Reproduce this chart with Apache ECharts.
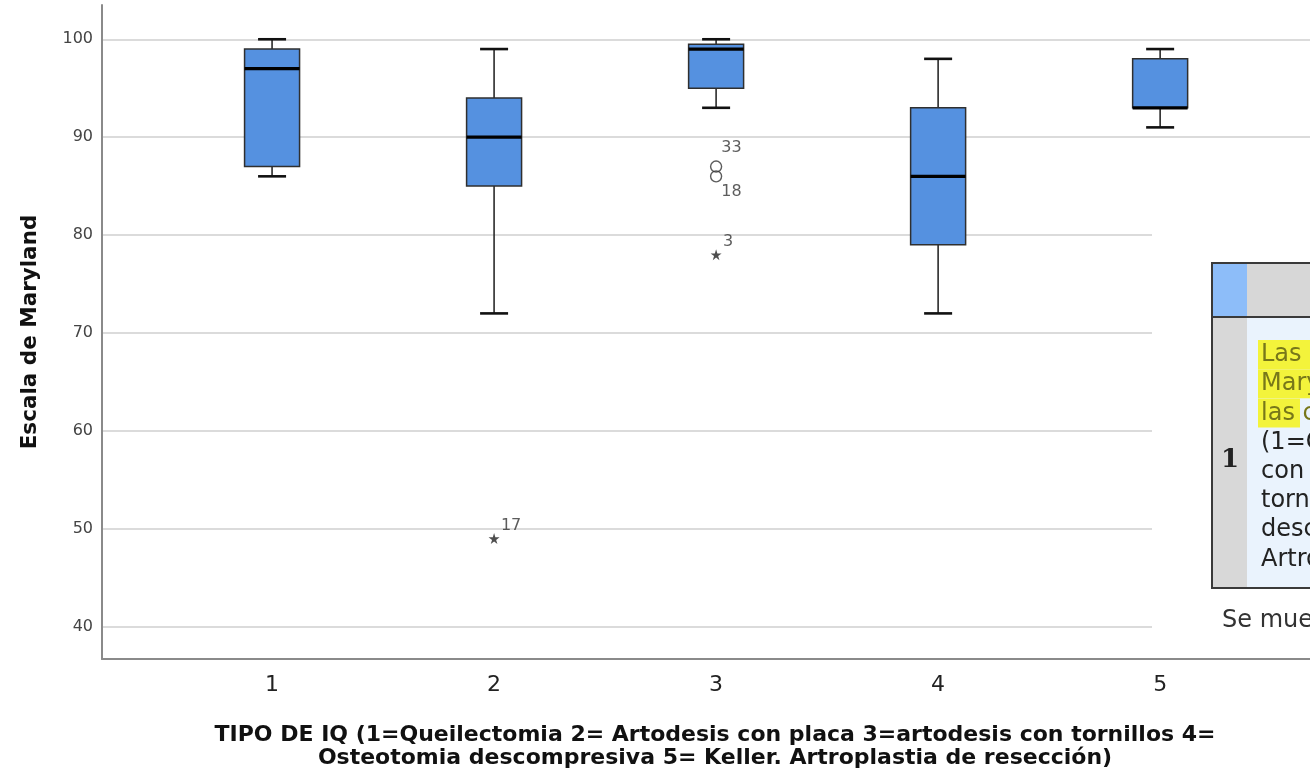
<!DOCTYPE html>
<html>
<head>
<meta charset="utf-8">
<script src="https://cdn.jsdelivr.net/npm/echarts@6/dist/echarts.min.js"></script>
<style>
html,body{margin:0;padding:0;background:#fff;}
#chart{width:1310px;height:775px;}
</style>
</head>
<body>
<div id="chart"></div>
<script>
// ---- data ----
const categories = [1, 2, 3, 4, 5];
const whiskerLow = [86, 72, 93, 72, 91];
const q1 = [87, 85, 95, 79, 93];
const median = [97, 90, 99, 86, 93];
const q3 = [99, 94, 99.5, 93, 98];
const whiskerHigh = [100, 99, 100, 98, 99];
const outlierCat = [3, 3];
const outlierVal = [87, 86];
const outlierId = ['33', '18'];
const extremeCat = [2, 3];
const extremeVal = [49, 78];
const extremeId = ['17', '3'];
const yAxisName = 'Escala de Maryland';
const xAxisName = 'TIPO DE IQ (1=Queilectomia 2= Artodesis con placa 3=artodesis con tornillos 4=\nOsteotomia descompresiva 5= Keller. Artroplastia de resección)';
const tableLines = ['Las medianas de Escala de', 'Maryland son las mismas entre', 'las categorías de TIPO DE IQ', '(1=Queilectomia 2= Artodesis', 'con placa 3=artodesis con', 'tornillos 4=Osteotomia', 'descompresiva 5= Keller.', 'Artroplastia de resección)'];
const tableRowLabel = '1';
const tableFooter = 'Se muestran significaciones asintóticas.';

// ---- styles / layout ----
const outlierLabelOffset = [[16, -18], [16, 16]];
const extremeLabelOffset = [[17, -13], [12, -13]];
const labelFont = {fontFamily: 'DejaVu Sans', fontSize: 16, color: '#333'};
const starPath = 'path://M50,0 L61,35 L98,35 L68,57 L79,91 L50,70 L21,91 L32,57 L2,35 L39,35 Z';

const boxData = categories.map((c, i) => [c, whiskerLow[i], q1[i], median[i], q3[i], whiskerHigh[i]]);

function makePoints(cats, vals, ids, offsets, size) {
  return cats.map((c, i) => ({
    value: [c, vals[i]],
    label: {
      show: true,
      formatter: ids[i],
      position: [size / 2 + offsets[i][0], size / 2 + offsets[i][1]],
      align: 'center',
      verticalAlign: 'middle',
      ...labelFont
    }
  }));
}

const chart = echarts.init(document.getElementById('chart'), null, {renderer: 'canvas'});

const tableX = 1212, tableTop = 263, headerBottom = 317, tableBottom = 588, leftColRight = 1247;
const lineY0 = 355, lineStep = 29.2;
const graphics = [
  {type: 'rect', shape: {x: 1152, y: 200, width: 160, height: 450}, style: {fill: '#fff'}, z: 100},
  {type: 'rect', shape: {x: leftColRight, y: tableTop, width: 80, height: headerBottom - tableTop}, style: {fill: '#d7d7d7'}, z: 101},
  {type: 'rect', shape: {x: tableX, y: tableTop, width: leftColRight - tableX, height: headerBottom - tableTop}, style: {fill: '#8dbdf9'}, z: 101},
  {type: 'rect', shape: {x: tableX, y: headerBottom, width: leftColRight - tableX, height: tableBottom - headerBottom}, style: {fill: '#d8d8d8'}, z: 101},
  {type: 'rect', shape: {x: leftColRight, y: headerBottom, width: 80, height: tableBottom - headerBottom}, style: {fill: '#eaf3fd'}, z: 101},
  {type: 'rect', shape: {x: tableX, y: tableTop, width: 120, height: tableBottom - tableTop}, style: {fill: null, stroke: '#3a3a3a', lineWidth: 2}, z: 104},
  {type: 'line', shape: {x1: tableX, y1: headerBottom, x2: 1320, y2: headerBottom}, style: {stroke: '#3a3a3a', lineWidth: 2}, z: 104},
  {type: 'text', x: 1230, y: 460, style: {text: tableRowLabel, font: 'bold 26px "DejaVu Serif"', fill: '#222', align: 'center', verticalAlign: 'middle'}, z: 103},
  {type: 'text', x: 1222, y: 621, style: {text: tableFooter, font: '24px "DejaVu Sans"', fill: '#333', align: 'left', verticalAlign: 'middle'}, z: 103}
];
const hlRight = [1312, 1312, 1300];
tableLines.forEach((t, i) => {
  const y = lineY0 + i * lineStep;
  if (i < 3) {
    graphics.push({type: 'rect', shape: {x: 1258, y: y - 15, width: hlRight[i] - 1258, height: 29}, style: {fill: '#f3f33b'}, z: 102});
  }
  graphics.push({type: 'text', x: 1261, y: y, style: {text: t, font: '24px "DejaVu Sans"', fill: i < 3 ? '#77771a' : '#222', align: 'left', verticalAlign: 'middle'}, z: 103});
});

const option = {
  backgroundColor: '#fff',
  animation: false,
  grid: {left: 102, right: 0, top: 5, bottom: 113, containLabel: false},
  xAxis: {
    type: 'value',
    min: 0.234,
    max: 5.675,
    axisLine: {show: true, lineStyle: {color: '#8a8a8a', width: 2}},
    axisTick: {show: false},
    splitLine: {show: false},
    axisLabel: {
      showMinLabel: false, showMaxLabel: false,
      formatter: v => (Number.isInteger(v) && categories.includes(v)) ? String(v) : '',
      fontFamily: 'DejaVu Sans', fontSize: 22, color: '#222', margin: 15
    },
    name: xAxisName,
    nameLocation: 'middle',
    nameGap: 65,
    nameTextStyle: {fontFamily: 'DejaVu Sans', fontWeight: 'bold', fontSize: 22, lineHeight: 23, color: '#111', padding: [0, 0, 0, 18]}
  },
  yAxis: {
    type: 'value',
    min: 36.7,
    max: 103.5,
    axisLine: {show: true, lineStyle: {color: '#8a8a8a', width: 2}},
    axisTick: {show: false},
    splitLine: {show: true, showMinLine: false, showMaxLine: false, lineStyle: {color: '#cfcfcf', width: 1.5}},
    axisLabel: {showMinLabel: false, showMaxLabel: false, fontFamily: 'DejaVu Sans', fontSize: 16, color: '#444', margin: 9,
      formatter: v => Number.isInteger(v) ? String(v) : ''},
    name: yAxisName,
    nameLocation: 'middle',
    nameGap: 61,
    nameTextStyle: {fontFamily: 'DejaVu Sans', fontWeight: 'bold', fontSize: 21.5, color: '#111'}
  },
  series: [
    {
      type: 'custom',
      name: 'box',
      data: boxData,
      encode: {x: 0, y: [1, 2, 3, 4, 5]},
      z: 3,
      renderItem: function (params, api) {
        const x = api.value(0);
        const lo = api.coord([x, api.value(1)]);
        const b1 = api.coord([x, api.value(2)]);
        const md = api.coord([x, api.value(3)]);
        const b3 = api.coord([x, api.value(4)]);
        const hi = api.coord([x, api.value(5)]);
        const bw = 55, cw = 28, cx = lo[0];
        const whisk = {stroke: '#2a2a2a', lineWidth: 1.6};
        const cap = {stroke: '#111', lineWidth: 2.6};
        return {
          type: 'group',
          children: [
            {type: 'line', shape: {x1: cx, y1: hi[1], x2: cx, y2: b3[1]}, style: whisk},
            {type: 'line', shape: {x1: cx, y1: b1[1], x2: cx, y2: lo[1]}, style: whisk},
            {type: 'line', shape: {x1: cx - cw / 2, y1: hi[1], x2: cx + cw / 2, y2: hi[1]}, style: cap},
            {type: 'line', shape: {x1: cx - cw / 2, y1: lo[1], x2: cx + cw / 2, y2: lo[1]}, style: cap},
            {type: 'rect', shape: {x: cx - bw / 2, y: b3[1], width: bw, height: b1[1] - b3[1]}, style: {fill: '#5591e0', stroke: '#2f2f2f', lineWidth: 1.5}},
            {type: 'line', shape: {x1: cx - bw / 2, y1: md[1], x2: cx + bw / 2, y2: md[1]}, style: {stroke: '#000', lineWidth: 3.2}}
          ]
        };
      }
    },
    {
      type: 'scatter',
      name: 'outliers',
      symbol: 'circle',
      symbolSize: 11,
      z: 4,
      itemStyle: {color: 'rgba(255,255,255,0)', borderColor: '#333', borderWidth: 1.4},
      data: makePoints(outlierCat, outlierVal, outlierId, outlierLabelOffset, 11)
    },
    {
      type: 'scatter',
      name: 'extremes',
      symbol: starPath,
      symbolSize: 11,
      z: 4,
      itemStyle: {color: '#222'},
      data: makePoints(extremeCat, extremeVal, extremeId, extremeLabelOffset, 11)
    }
  ],
  graphic: graphics
};
chart.setOption(option);
</script>
</body>
</html>
